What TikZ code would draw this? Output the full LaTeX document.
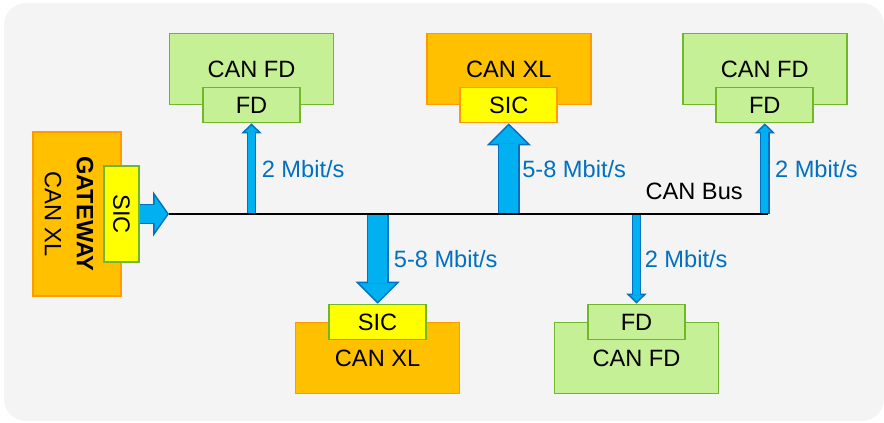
\documentclass[tikz,border=0pt]{standalone}
\usepackage{fontspec}
\setmainfont{Liberation Sans}
\usetikzlibrary{positioning,arrows.meta}
\definecolor{panelGray}{RGB}{244,244,244}
\definecolor{xlOrange}{RGB}{255,192,0}
\definecolor{xlEdge}{RGB}{255,155,0}
\definecolor{sicYellow}{RGB}{255,255,0}
\definecolor{fdGreen}{RGB}{197,240,150}
\definecolor{fdEdge}{RGB}{112,183,42}
\definecolor{flowCyan}{RGB}{0,176,240}
\definecolor{flowBlue}{RGB}{0,112,192}

\begin{document}
\begin{tikzpicture}[
    txt/.style={font=\fontsize{16.8pt}{20pt}\selectfont, inner sep=0pt},
    xlbox/.style={rectangle, txt, draw=xlEdge, fill=xlOrange, line width=1.2pt, minimum width=4.1cm, minimum height=1.775cm},
    fdbox/.style={rectangle, txt, draw=fdEdge, fill=fdGreen, line width=1.2pt, minimum width=4.1cm, minimum height=1.775cm},
    sicbox/.style={rectangle, txt, draw=fdEdge, fill=sicYellow, line width=1.2pt, minimum width=2.425cm, minimum height=0.875cm},
    fdport/.style={fdbox, minimum width=2.425cm, minimum height=0.875cm},
    flow/.style n args={5}{draw=flowBlue, line width=#1,
        -{Triangle[length=#3, width=#4, fill=flowCyan, line width=1pt]},
        postaction={draw=flowCyan, line width=#2, -, shorten >=#5}},
    thinflow/.style={flow={7.1pt}{5.1pt}{7.1pt}{14.2pt}{6pt}},
    thickflow/.style={flow={15.6pt}{13.6pt}{15.6pt}{31.2pt}{14.5pt}},
    sideflow/.style={flow={14.9pt}{12.9pt}{11.3pt}{31.9pt}{10.2pt}},
    bus/.style={line width=2pt, black},
    rate/.style={txt, text=flowBlue}
]

% Panel
\useasboundingbox (0,0) rectangle (22.1,10.575);
\fill[panelGray, rounded corners=0.55cm] (0.1,0.05) rectangle (22.1,10.5);

% Gateway
\node[xlbox, minimum width=2.2cm, minimum height=4.1cm] (gw) at (1.925,5.225) {};
\node[txt, rotate=-90, align=center, font=\fontsize{16.8pt}{22.7pt}\selectfont] (gwText) at (1.725,5.225) {\textbf{GATEWAY}\\CAN XL};
\node[sicbox, minimum width=2.4cm, rotate=-90] (sicGW) at (3.0375,5.225) {SIC};

% Upper nodes
\node[fdbox] (fdA) at (6.2875,8.85) {CAN FD};
\node[fdport] (fdPortA) at (6.2875,7.95) {FD};
\node[xlbox] (xlA) at (12.72,8.85) {CAN XL};
\node[sicbox, draw=xlEdge] (sicA) at (12.72,7.95) {SIC};
\node[fdbox] (fdB) at (19.12,8.85) {CAN FD};
\node[fdport] (fdPortB) at (19.12,7.95) {FD};

% Lower nodes
\node[xlbox] (xlB) at (9.44,1.625) {CAN XL};
\node[sicbox] (sicB) at (9.44,2.525) {SIC};
\node[fdbox] (fdC) at (15.9125,1.625) {CAN FD};
\node[fdport] (fdPortC) at (15.9125,2.525) {FD};

% Bus ends
\coordinate (busL) at (4.225,5.225);
\coordinate (busR) at (19.2,5.225);

% Flows
\draw[sideflow] (sicGW.north) -- (busL);
\draw[thinflow] (fdPortA.south |- busL) -- coordinate (midA) (fdPortA.south);
\draw[thickflow] (sicA.south |- busL) -- coordinate (midB) (sicA.south);
\draw[thinflow] (fdPortB.south |- busL) -- coordinate (midC) (fdPortB.south);
\draw[thickflow] (sicB.north |- busL) -- coordinate (midD) (sicB.north);
\draw[thinflow] (fdPortC.north |- busL) -- coordinate (midE) (fdPortC.north);

% CAN bus
\draw[bus] (busL) -- (busR);
\node[txt, above left=0.34cm and 0.625cm of busR] (busText) {CAN Bus};

% Rates
\node[rate, right=0.25cm of midA] (rateA) {2 Mbit/s};
\node[rate, right=0.33cm of midB] (rateB) {5-8 Mbit/s};
\node[rate, right=0.25cm of midC] (rateC) {2 Mbit/s};
\node[rate, right=0.4cm of midD] (rateD) {5-8 Mbit/s};
\node[rate, right=0.2cm of midE] (rateE) {2 Mbit/s};

\end{tikzpicture}
\end{document}
